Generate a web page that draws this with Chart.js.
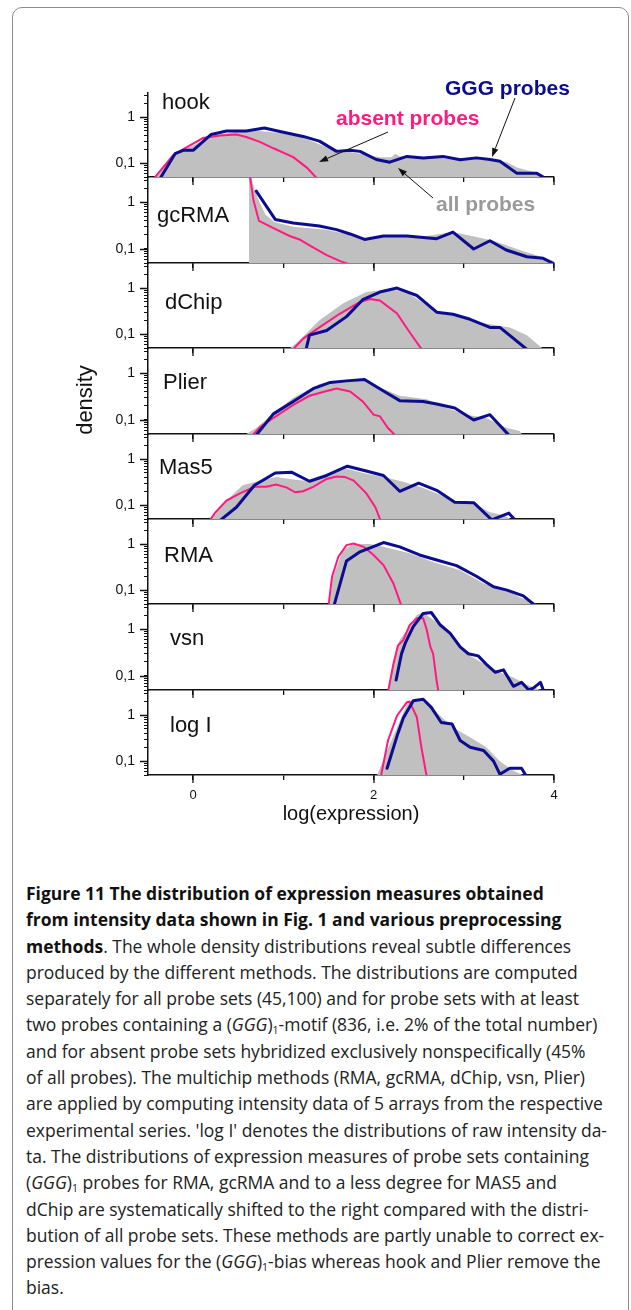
<!DOCTYPE html>
<html>
<head>
<meta charset="utf-8">
<script src="https://cdn.jsdelivr.net/npm/chart.js@4.4.1/dist/chart.umd.min.js"></script>
<style>
  body { margin: 0; width: 631px; height: 1310px; background: #fff; position: relative; overflow: hidden;
         font-family: "Liberation Sans", Arial, sans-serif; color: #111; }
  .frame { position: absolute; left: 12px; top: 7px; width: 615px; height: 1400px;
           border: 1px solid #8c8c8c; border-radius: 10px; }
  .panel { position: absolute; left: 0; width: 631px; }
  .lbl { position: absolute; font-size: 22px; line-height: 1; transform: translateY(-50%); white-space: nowrap; }
  .note { position: absolute; font-size: 21px; font-weight: bold; line-height: 1; transform: translateY(-50%); white-space: nowrap; }
  #density { position: absolute; left: 85px; top: 400px; font-size: 22px; line-height: 1;
             transform: translate(-50%, -50%) rotate(-90deg); white-space: nowrap; }
  #arrows { position: absolute; left: 0; top: 0; width: 631px; height: 300px; z-index: 5; pointer-events: none; }
  .note, .lbl { z-index: 6; }
  #caption { position: absolute; left: 26px; top: 880px; font-family: "Open Sans", sans-serif; font-size: 18px;
             line-height: 26.3px; color: #222; transform-origin: 0 0; }
  #caption div { white-space: nowrap; }
  #caption b { font-weight: bold; color: #111; }
  #caption sub { font-size: 0.6em; vertical-align: -0.25em; line-height: 0; }
</style>
</head>
<body>
<div class="frame"></div>
<div id="charts"></div>
<div id="density">density</div>
<svg id="arrows"></svg>
<div class="note" style="left:445px; top:87px; color:#0c0c8e;">GGG probes</div>
<div class="note" style="left:336px; top:117px; color:#ff1a80;">absent probes</div>
<div class="note" style="left:436px; top:203px; color:#9a9a9a;">all probes</div>

<div id="caption">
  <div><b>Figure 11 The distribution of expression measures obtained</b></div>
  <div><b>from intensity data shown in Fig. 1 and various preprocessing</b></div>
  <div><b>methods</b>. The whole density distributions reveal subtle differences</div>
  <div>produced by the different methods. The distributions are computed</div>
  <div>separately for all probe sets (45,100) and for probe sets with at least</div>
  <div>two probes containing a (<i>GGG</i>)<sub>1</sub>-motif (836, i.e. 2% of the total number)</div>
  <div>and for absent probe sets hybridized exclusively nonspecifically (45%</div>
  <div>of all probes). The multichip methods (RMA, gcRMA, dChip, vsn, Plier)</div>
  <div>are applied by computing intensity data of 5 arrays from the respective</div>
  <div>experimental series. 'log I' denotes the distributions of raw intensity da-</div>
  <div>ta. The distributions of expression measures of probe sets containing</div>
  <div>(<i>GGG</i>)<sub>1</sub> probes for RMA, gcRMA and to a less degree for MAS5 and</div>
  <div>dChip are systematically shifted to the right compared with the distri-</div>
  <div>bution of all probe sets. These methods are partly unable to correct ex-</div>
  <div>pression values for the (<i>GGG</i>)<sub>1</sub>-bias whereas hook and Plier remove the</div>
  <div>bias.</div>
</div>

<script>
// Panel names (one per preprocessing method)
const methods = ["hook", "gcRMA", "dChip", "Plier", "Mas5", "RMA", "vsn", "log I"];

// Axis ticks
const xTicks = [0, 1, 2, 3, 4];
const xTickLabels = ["0", "", "2", "", "4"];
const xMajor = [0, 2, 4];
const yTicks = [0.05, 0.06, 0.07, 0.08, 0.09, 0.1, 0.2, 0.3, 0.4, 0.5, 0.6, 0.7, 0.8, 0.9, 1, 2, 3];
const yTickLabels = { "0.1": "0,1", "1": "1" };
const yMajor = [0.1, 1];

// density curves, [log(expression), density]
const hookAll = [[-0.43,0.045],[-0.2,0.17],[0,0.24],[0.22,0.4],[0.48,0.48],[0.74,0.5],[0.96,0.45],[1.22,0.36],[1.48,0.22],[1.63,0.19],[1.85,0.16],[2.07,0.135],[2.2,0.135],[2.24,0.16],[2.29,0.14],[2.59,0.135],[2.96,0.13],[3.33,0.125],[3.48,0.105],[3.59,0.08],[3.7,0.07],[3.84,0.06],[3.92,0.045]];
const hookGGG = [[-0.37,0.045],[-0.2,0.16],[-0.11,0.19],[0,0.19],[0.2,0.42],[0.37,0.5],[0.59,0.5],[0.79,0.58],[1.0,0.47],[1.22,0.38],[1.4,0.3],[1.59,0.18],[1.74,0.19],[1.85,0.18],[2.03,0.12],[2.18,0.105],[2.37,0.14],[2.55,0.13],[2.77,0.14],[2.96,0.118],[3.14,0.13],[3.29,0.12],[3.4,0.11],[3.59,0.06],[3.81,0.06],[3.92,0.045]];
const hookAbsent = [[-0.44,0.045],[-0.22,0.15],[-0.04,0.24],[0.11,0.35],[0.3,0.4],[0.48,0.42],[0.59,0.37],[0.74,0.29],[0.89,0.21],[1.11,0.135],[1.26,0.08],[1.38,0.045]];

const gcrmaAll = [[0.62,0.045],[0.62,5],[0.68,1.9],[0.72,1.2],[0.8,0.55],[0.9,0.38],[1.11,0.3],[1.48,0.26],[1.7,0.21],[1.92,0.17],[2.22,0.19],[2.59,0.19],[2.88,0.23],[3.14,0.18],[3.33,0.15],[3.62,0.095],[3.84,0.07],[4.0,0.055]];
const gcrmaGGG = [[0.7,1.74],[0.91,0.43],[1.11,0.36],[1.4,0.31],[1.59,0.26],[1.74,0.21],[1.9,0.16],[2.11,0.19],[2.37,0.19],[2.7,0.166],[2.88,0.23],[3.11,0.1],[3.29,0.15],[3.47,0.095],[3.7,0.068],[3.88,0.063],[4.0,0.048]];
const gcrmaAbsent = [[0.62,5],[0.67,1.09],[0.73,0.4],[0.89,0.28],[1.07,0.19],[1.18,0.16],[1.29,0.12],[1.48,0.074],[1.63,0.055],[1.76,0.045]];

const dchipAll = [[1.05,0.045],[1.18,0.074],[1.4,0.2],[1.66,0.46],[1.92,0.82],[2.14,0.92],[2.33,0.89],[2.51,0.54],[2.7,0.3],[2.96,0.26],[3.14,0.18],[3.33,0.16],[3.51,0.14],[3.7,0.095],[3.84,0.055],[3.9,0.045]];
const dchipGGG = [[1.25,0.045],[1.29,0.095],[1.48,0.12],[1.7,0.24],[1.88,0.56],[2.07,0.82],[2.26,1.0],[2.48,0.69],[2.7,0.3],[2.88,0.27],[3.07,0.21],[3.29,0.14],[3.4,0.14],[3.71,0.045]];
const dchipAbsent = [[1.1,0.045],[1.22,0.08],[1.4,0.14],[1.63,0.28],[1.85,0.5],[1.96,0.58],[2.07,0.54],[2.26,0.28],[2.4,0.11],[2.54,0.045]];

const plierAll = [[0.55,0.045],[0.7,0.067],[0.89,0.14],[1.11,0.3],[1.4,0.59],[1.66,0.72],[1.88,0.75],[2.07,0.5],[2.29,0.33],[2.59,0.28],[2.81,0.18],[3.03,0.13],[3.25,0.11],[3.48,0.067],[3.62,0.058],[3.66,0.045]];
const plierGGG = [[0.69,0.045],[0.89,0.135],[1.11,0.25],[1.33,0.47],[1.52,0.64],[1.7,0.69],[1.9,0.74],[2.11,0.42],[2.29,0.26],[2.55,0.25],[2.7,0.22],[2.9,0.18],[3.11,0.1],[3.29,0.13],[3.51,0.045]];
const plierAbsent = [[0.65,0.045],[0.74,0.07],[0.89,0.11],[1.11,0.21],[1.29,0.33],[1.48,0.42],[1.59,0.47],[1.74,0.41],[1.88,0.25],[2.0,0.13],[2.07,0.12],[2.16,0.067],[2.25,0.045]];

const mas5All = [[0.18,0.045],[0.37,0.126],[0.55,0.27],[0.74,0.34],[0.92,0.41],[1.11,0.36],[1.29,0.33],[1.48,0.44],[1.7,0.62],[1.92,0.48],[2.11,0.41],[2.33,0.32],[2.51,0.25],[2.7,0.18],[2.88,0.126],[3.11,0.107],[3.29,0.07],[3.44,0.06],[3.56,0.045]];
const mas5GGG = [[0.29,0.045],[0.48,0.09],[0.68,0.27],[0.91,0.5],[1.09,0.52],[1.29,0.33],[1.48,0.44],[1.71,0.7],[1.92,0.55],[2.11,0.44],[2.29,0.2],[2.5,0.3],[2.7,0.21],[2.9,0.116],[3.11,0.113],[3.31,0.048],[3.5,0.067],[3.58,0.045]];
const mas5Absent = [[0.18,0.045],[0.24,0.067],[0.37,0.126],[0.52,0.18],[0.68,0.25],[0.81,0.25],[0.92,0.28],[1.04,0.24],[1.13,0.19],[1.22,0.2],[1.33,0.25],[1.48,0.37],[1.59,0.42],[1.68,0.41],[1.78,0.34],[1.92,0.18],[2.02,0.09],[2.08,0.045]];

const rmaAll = [[1.51,0.045],[1.55,0.195],[1.66,0.74],[1.78,1.0],[1.96,1.0],[2.11,0.87],[2.4,0.63],[2.66,0.41],[2.96,0.27],[3.22,0.14],[3.48,0.1],[3.62,0.07],[3.77,0.056],[3.82,0.045]];
const rmaGGG = [[1.56,0.045],[1.7,0.43],[1.85,0.68],[2.11,1.08],[2.29,0.87],[2.51,0.58],[2.7,0.45],[2.92,0.34],[3.14,0.2],[3.33,0.118],[3.48,0.1],[3.66,0.075],[3.8,0.045]];
const rmaAbsent = [[1.5,0.045],[1.54,0.195],[1.61,0.53],[1.7,0.95],[1.78,1.03],[1.89,0.87],[2.0,0.58],[2.11,0.35],[2.22,0.14],[2.31,0.045]];

const vsnAll = [[2.16,0.045],[2.22,0.21],[2.29,0.59],[2.37,0.97],[2.48,2.05],[2.55,2.3],[2.66,1.6],[2.77,1.15],[2.92,0.54],[3.07,0.27],[3.25,0.17],[3.4,0.12],[3.55,0.093],[3.7,0.065],[3.85,0.05],[3.88,0.045]];
const vsnGGG = [[2.25,0.082],[2.31,0.3],[2.35,0.5],[2.44,1.15],[2.55,2.2],[2.64,2.3],[2.74,1.24],[2.85,0.82],[2.96,0.42],[3.05,0.3],[3.16,0.27],[3.26,0.17],[3.35,0.12],[3.44,0.135],[3.55,0.06],[3.64,0.073],[3.72,0.05],[3.77,0.055],[3.85,0.073],[3.89,0.045]];
const vsnAbsent = [[2.16,0.045],[2.22,0.18],[2.27,0.45],[2.33,0.59],[2.4,1.24],[2.48,1.74],[2.55,1.74],[2.59,0.97],[2.63,0.42],[2.66,0.3],[2.7,0.077],[2.72,0.045]];

const logIAll = [[2.03,0.045],[2.15,0.17],[2.26,0.54],[2.37,1.74],[2.48,2.3],[2.59,1.9],[2.74,0.97],[2.88,0.54],[3.07,0.33],[3.25,0.2],[3.4,0.1],[3.55,0.062],[3.7,0.045]];
const logIGGG = [[2.15,0.07],[2.26,0.35],[2.33,0.86],[2.44,2.05],[2.55,2.2],[2.64,1.47],[2.75,0.69],[2.87,0.64],[2.96,0.28],[3.07,0.2],[3.22,0.17],[3.33,0.1],[3.4,0.052],[3.51,0.07],[3.64,0.07],[3.7,0.045]];
const logIAbsent = [[2.08,0.045],[2.16,0.28],[2.26,0.97],[2.37,1.9],[2.4,1.95],[2.48,0.89],[2.53,0.2],[2.59,0.045]];

const allProbes = [hookAll, gcrmaAll, dchipAll, plierAll, mas5All, rmaAll, vsnAll, logIAll];
const gggProbes = [hookGGG, gcrmaGGG, dchipGGG, plierGGG, mas5GGG, rmaGGG, vsnGGG, logIGGG];
const absentProbes = [hookAbsent, gcrmaAbsent, dchipAbsent, plierAbsent, mas5Absent, rmaAbsent, vsnAbsent, logIAbsent];

// layout
const NAVY = "#0c0c8e", PINK = "#ff1a80", GREY = "#c0c0c0", INK = "#111";
const firstTop = 92, panelH = 85.4;
const plotLeft = 148, plotRight = 554;
const labelPos = [[162,102],[157,215],[165,302],[163,382],[159,467],[164,555],[170,638],[170,725]];

Chart.defaults.font.family = '"Liberation Sans", Arial, sans-serif';
Chart.defaults.color = INK;

const toXY = arr => arr.map(p => ({ x: p[0], y: p[1] }));
// no label-overhang padding: the plot area must fill the panel exactly
const noPad = s => { s.paddingTop = 0; s.paddingBottom = 0; s.paddingLeft = 0; s.paddingRight = 0; };

// longer tick marks for the labelled values
const majorTicks = {
  id: "majorTicks",
  afterDraw(chart) {
    const { ctx, chartArea: a, scales } = chart;
    ctx.save();
    ctx.strokeStyle = INK;
    ctx.lineWidth = 1.3;
    ctx.beginPath();
    yMajor.forEach(v => {
      const py = Math.round(scales.y.getPixelForValue(v)) + 0.5;
      ctx.moveTo(a.left - 8, py); ctx.lineTo(a.left, py);
    });
    xMajor.forEach(v => {
      const px = Math.round(scales.x.getPixelForValue(v));
      ctx.moveTo(px, a.bottom); ctx.lineTo(px, a.bottom + 8);
    });
    ctx.stroke();
    ctx.restore();
  }
};

const holder = document.getElementById("charts");

methods.forEach((name, i) => {
  const last = i === methods.length - 1;
  const top = Math.round(firstTop + i * panelH);
  const h = Math.round(firstTop + (i + 1) * panelH) - top;
  const axisH = last ? 51 : 10;

  const div = document.createElement("div");
  div.className = "panel";
  div.style.top = top + "px";
  div.style.height = (h + axisH) + "px";
  const cv = document.createElement("canvas");
  cv.width = 631;
  cv.height = h + axisH;
  div.appendChild(cv);
  holder.appendChild(div);

  const lbl = document.createElement("div");
  lbl.className = "lbl";
  lbl.textContent = name;
  lbl.style.left = labelPos[i][0] + "px";
  lbl.style.top = labelPos[i][1] + "px";
  document.body.appendChild(lbl);

  new Chart(cv.getContext("2d"), {
    type: "line",
    data: {
      datasets: [
        { label: "GGG probes", data: toXY(gggProbes[i]), borderColor: NAVY, borderWidth: 3,
          pointRadius: 0, fill: false, tension: 0, order: 0, borderJoinStyle: "round", borderCapStyle: "round" },
        { label: "absent probes", data: toXY(absentProbes[i]), borderColor: PINK, borderWidth: 2,
          pointRadius: 0, fill: false, tension: 0, order: 1 },
        { label: "all probes", data: toXY(allProbes[i]), borderColor: GREY, borderWidth: 0,
          backgroundColor: GREY, pointRadius: 0, fill: "start", tension: 0, order: 2 }
      ]
    },
    options: {
      responsive: false,
      animation: false,
      events: [],
      layout: { autoPadding: false, padding: { left: 0, right: 631 - plotRight, top: 0, bottom: 0 } },
      plugins: { legend: { display: false }, tooltip: { enabled: false } },
      scales: {
        x: {
          type: "linear", min: -0.5, max: 4,
          afterBuildTicks: s => { s.ticks = xTicks.map(v => ({ value: v })); },
          afterFit: s => { s.height = axisH; noPad(s); },
          ticks: { autoSkip: false, maxRotation: 0, padding: 8, font: { size: 13 },
                   callback: (v, idx) => last ? xTickLabels[idx] : "" },
          grid: { drawOnChartArea: false, drawTicks: true, tickLength: 5, color: INK, lineWidth: 1.3 },
          border: { color: INK, width: 1.5 },
          title: { display: last, text: "log(expression)", font: { size: 20 }, padding: { top: 0, bottom: 0 } }
        },
        y: {
          type: "logarithmic", min: 0.05, max: 3.5,
          afterBuildTicks: s => { s.ticks = yTicks.map(v => ({ value: v })); },
          afterFit: s => { s.width = plotLeft; noPad(s); },
          ticks: { autoSkip: false, padding: 9, font: { size: 14 },
                   callback: v => yTickLabels[String(+v.toPrecision(3))] || "" },
          grid: { drawOnChartArea: false, drawTicks: true, tickLength: 4, color: INK, lineWidth: 1 },
          border: { color: INK, width: 1.5 }
        }
      }
    },
    plugins: [majorTicks]
  });
});

// annotation arrows (label -> curve)
const arrows = [[388,132,319,162],[515,98,492,157],[433,198,398,168]];
const svg = document.getElementById("arrows");
arrows.forEach(a => {
  const [x1, y1, x2, y2] = a;
  const ang = Math.atan2(y2 - y1, x2 - x1), L = 9, W = 3.2;
  const bx = x2 - L * Math.cos(ang), by = y2 - L * Math.sin(ang);
  const px = -Math.sin(ang) * W, py = Math.cos(ang) * W;
  svg.innerHTML += `<line x1="${x1}" y1="${y1}" x2="${bx}" y2="${by}" stroke="#111" stroke-width="1"/>` +
    `<polygon points="${x2},${y2} ${bx + px},${by + py} ${bx - px},${by - py}" fill="#111"/>`;
});

// fit caption lines to the column width
const cap = document.getElementById("caption");
let widest = 0;
cap.querySelectorAll("div").forEach(d => {
  const r = document.createRange();
  r.selectNodeContents(d);
  widest = Math.max(widest, r.getBoundingClientRect().width);
});
cap.style.transform = "scaleX(" + (581 / widest) + ")";
</script>
</body>
</html>
